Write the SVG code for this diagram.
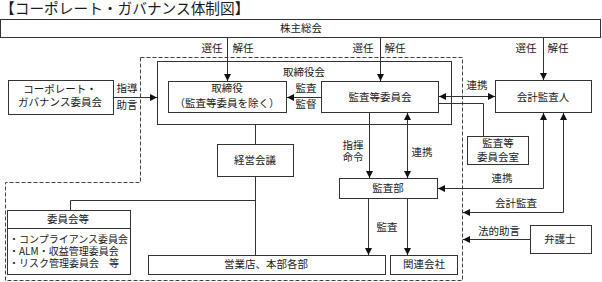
<svg xmlns="http://www.w3.org/2000/svg" width="602" height="282" viewBox="0 0 602 282">
<defs>
<style>
text{font-family:"Noto Sans CJK JP","Noto Sans CJK SC",sans-serif;font-size:10.5px;fill:#1a1a1a;text-anchor:middle}
.box{fill:#fff;stroke:#333;stroke-width:1}
.ln{fill:none;stroke:#333;stroke-width:1}
.dash{fill:none;stroke:#444;stroke-width:1;stroke-dasharray:4 2}
.title{font-size:14.7px;text-anchor:start}
.list{font-size:10px;text-anchor:start}
</style>
<marker id="arr" viewBox="0 0 7 7" refX="7" refY="3.5" markerWidth="7" markerHeight="7" markerUnits="userSpaceOnUse" orient="auto-start-reverse">
<path d="M0,0 L7,3.5 L0,7 z" fill="#111"/>
</marker>
</defs>
<rect width="602" height="282" fill="#fff"/>
<text class="title" x="0" y="14">【コーポレート・ガバナンス体制図】</text>

<g id="boundary">
<path class="dash" d="M140.5,57.5 H462.5 V280.5 H5.5 V182.5 H140.5 Z"/>
</g>

<g id="shareholders">
<rect class="box" x="0.5" y="19.5" width="600" height="18"/>
<text x="301" y="32">株主総会</text>
</g>

<g id="board">
<rect class="box" x="157.5" y="61.5" width="294" height="63"/>
<text x="304" y="76">取締役会</text>
</g>

<g id="directors">
<rect class="box" x="168.5" y="81.5" width="118" height="31"/>
<text x="227" y="92">取締役<tspan x="227" y="107">（監査等委員を除く）</tspan></text>
</g>

<g id="audit-committee">
<rect class="box" x="321.5" y="81.5" width="117" height="31"/>
<text x="380" y="101">監査等委員会</text>
</g>

<g id="accounting-auditor">
<rect class="box" x="495.5" y="80.5" width="96" height="32"/>
<text x="543" y="101">会計監査人</text>
</g>

<g id="cg-committee">
<rect class="box" x="8.5" y="80.5" width="105" height="34"/>
<text x="60" y="93">コーポレート・<tspan x="60" y="106">ガバナンス委員会</tspan></text>
</g>

<g id="audit-committee-office">
<rect class="box" x="467.5" y="136.5" width="61" height="28"/>
<text x="498" y="147">監査等<tspan x="498" y="161">委員会室</tspan></text>
</g>

<g id="management-meeting">
<rect class="box" x="217.5" y="144.5" width="76" height="32"/>
<text x="255" y="164">経営会議</text>
</g>

<g id="internal-audit">
<rect class="box" x="339.5" y="178.5" width="98" height="20"/>
<text x="388" y="192">監査部</text>
</g>

<g id="lawyer">
<rect class="box" x="530.5" y="225.5" width="61" height="28"/>
<text x="560" y="243">弁護士</text>
</g>

<g id="committees">
<rect class="box" x="7.5" y="210.5" width="123" height="64"/>
<line class="ln" x1="7.5" y1="228.5" x2="130.5" y2="228.5"/>
<text x="68" y="223">委員会等</text>
<text class="list" x="9" y="243">・コンプライアンス委員会<tspan x="9" y="255">・ALM・収益管理委員会</tspan><tspan x="9" y="267">・リスク管理委員会　等</tspan></text>
</g>

<g id="branches">
<rect class="box" x="148.5" y="255.5" width="237" height="19"/>
<text x="266" y="268">営業店、本部各部</text>
</g>

<g id="affiliates">
<rect class="box" x="390.5" y="255.5" width="67" height="19"/>
<text x="424" y="268">関連会社</text>
</g>

<g id="connectors">
<line class="ln" x1="227.5" y1="37.5" x2="227.5" y2="81" marker-end="url(#arr)"/>
<line class="ln" x1="380.5" y1="37.5" x2="380.5" y2="81" marker-end="url(#arr)"/>
<line class="ln" x1="543.5" y1="37.5" x2="543.5" y2="80" marker-end="url(#arr)"/>
<line class="ln" x1="113.5" y1="97.5" x2="157" y2="97.5" marker-end="url(#arr)"/>
<line class="ln" x1="321" y1="97.5" x2="287" y2="97.5" marker-end="url(#arr)"/>
<line class="ln" x1="439" y1="96.5" x2="495" y2="96.5" marker-start="url(#arr)" marker-end="url(#arr)"/>
<polyline class="ln" points="438.5,103.5 483.5,103.5 483.5,136.5"/>
<line class="ln" x1="255.5" y1="124.5" x2="255.5" y2="144.5"/>
<line class="ln" x1="255.5" y1="176.5" x2="255.5" y2="255.5"/>
<polyline class="ln" points="255.5,200.5 70.5,200.5 70.5,210.5"/>
<line class="ln" x1="369.5" y1="112.5" x2="369.5" y2="178" marker-end="url(#arr)"/>
<line class="ln" x1="407.5" y1="113" x2="407.5" y2="178" marker-start="url(#arr)" marker-end="url(#arr)"/>
<line class="ln" x1="368.5" y1="198.5" x2="368.5" y2="255" marker-end="url(#arr)"/>
<line class="ln" x1="407.5" y1="198.5" x2="407.5" y2="255" marker-end="url(#arr)"/>
<polyline class="ln" points="438,188.5 543.5,188.5 543.5,113" marker-start="url(#arr)" marker-end="url(#arr)"/>
<polyline class="ln" points="463,212.5 563.5,212.5 563.5,113" marker-start="url(#arr)" marker-end="url(#arr)"/>
<line class="ln" x1="530.5" y1="239.5" x2="463" y2="239.5" marker-end="url(#arr)"/>

<text x="212" y="52">選任</text>
<text x="243" y="52">解任</text>
<text x="363" y="52">選任</text>
<text x="395" y="52">解任</text>
<text x="526" y="52">選任</text>
<text x="558" y="52">解任</text>
<text x="127" y="92">指導</text>
<text x="127" y="109">助言</text>
<text x="306" y="92">監査</text>
<text x="306" y="108">監督</text>
<text x="477" y="89">連携</text>
<text x="353" y="149">指揮<tspan x="353" y="161">命令</tspan></text>
<text x="422" y="156">連携</text>
<text x="387" y="231">監査</text>
<text x="502" y="182">連携</text>
<text x="516" y="207">会計監査</text>
<text x="499" y="235">法的助言</text>
</g>
</svg>
